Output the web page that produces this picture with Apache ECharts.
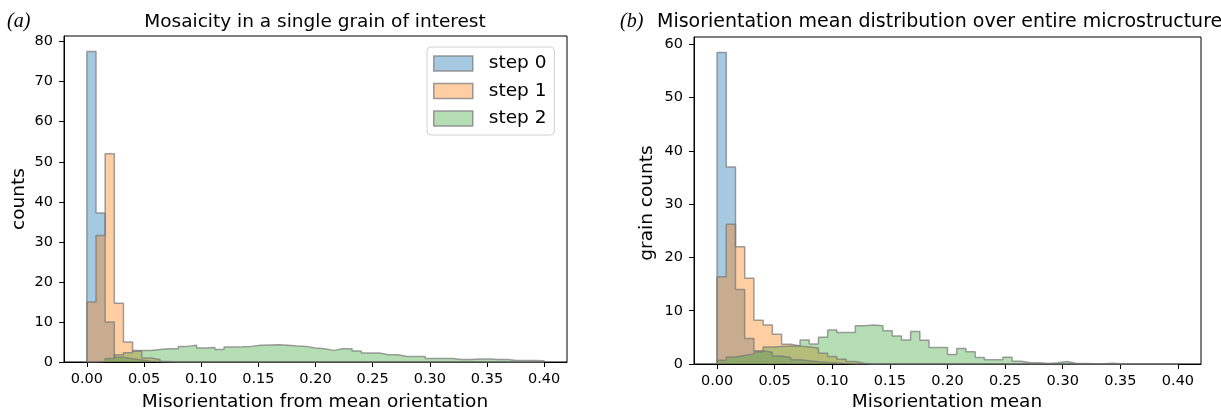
<!DOCTYPE html>
<html><head><meta charset="utf-8">
<script src="https://cdn.jsdelivr.net/npm/echarts@6/dist/echarts.min.js"></script>
<style>html,body{margin:0;padding:0;background:#fff}#c{width:1221px;height:413px}</style>
</head><body><div id="c"></div>
<script>
// ---- data ----
const binStart = 0;
const binWidth = 0.008;
const seriesNames = ['step 0', 'step 1', 'step 2'];
const xTicks = [0, 0.05, 0.10, 0.15, 0.20, 0.25, 0.30, 0.35, 0.40];
const yTicksA = [0, 10, 20, 30, 40, 50, 60, 70, 80];
const yTicksB = [0, 10, 20, 30, 40, 50, 60];

// (a) Mosaicity in a single grain of interest — counts per bin
const mosaicStep0 = [77.5, 37.2, 10, 1.2, 0.8, 0.5, 0.2, 0.1, 0, 0, 0, 0, 0, 0, 0, 0, 0, 0, 0, 0, 0, 0, 0, 0, 0, 0, 0, 0, 0, 0, 0, 0, 0, 0, 0, 0, 0, 0, 0, 0, 0, 0, 0, 0, 0, 0, 0, 0, 0, 0];
const mosaicStep1 = [15, 31.6, 52, 14.7, 5.0, 2.7, 1.0, 0.6, 0.1, 0, 0, 0, 0, 0, 0, 0, 0, 0, 0, 0, 0, 0, 0, 0, 0, 0, 0, 0, 0, 0, 0, 0, 0, 0, 0, 0, 0, 0, 0, 0, 0, 0, 0, 0, 0, 0, 0, 0, 0, 0];
const mosaicStep2 = [0, 0.1, 0.9, 1.8, 2.3, 2.9, 2.9, 3.1, 3.3, 3.3, 3.9, 4.2, 3.5, 3.6, 3.1, 3.75, 3.8, 3.9, 4.2, 4.25, 4.3, 4.2, 4.0, 3.9, 3.5, 3.3, 2.9, 3.3, 3.3, 2.75, 2.25, 2.25, 1.8, 1.8, 1.4, 1.4, 1.4, 0.9, 0.9, 0.9, 0.6, 0.6, 0.75, 0.75, 0.6, 0.6, 0.4, 0.4, 0.35, 0.3];

// (b) Misorientation mean distribution — grain counts per bin
const meanStep0 = [58.5, 37, 14, 4.8, 2.5, 2.2, 1.5, 1.2, 0.8, 0.6, 0.4, 0.3, 0.2, 0.1, 0, 0, 0, 0, 0, 0, 0, 0, 0, 0, 0, 0, 0, 0, 0, 0, 0, 0, 0, 0, 0, 0, 0, 0, 0, 0, 0, 0, 0, 0, 0, 0, 0, 0, 0, 0];
const meanStep1 = [16.4, 26.25, 22, 16.1, 8.2, 7.3, 5.6, 3.7, 3.4, 3.2, 3.0, 2.0, 1.4, 0.9, 0.45, 0.15, 0, 0, 0, 0, 0, 0, 0, 0, 0, 0, 0, 0, 0, 0, 0, 0, 0, 0, 0, 0, 0, 0, 0, 0, 0, 0, 0, 0, 0, 0, 0, 0, 0, 0];
const meanStep2 = [0.7, 1.3, 1.6, 1.9, 2.3, 3.2, 3.3, 3.4, 3.4, 4.5, 3.75, 5.0, 6.4, 5.9, 5.9, 7.2, 7.3, 7.2, 6.25, 5.25, 4.5, 6.1, 4.45, 3.1, 3.1, 1.8, 2.9, 2.3, 1.2, 0.8, 0.8, 1.25, 0.5, 0.25, 0.25, 0.1, 0.25, 0.45, 0.1, 0.1, 0.05, 0.05, 0.15, 0, 0, 0, 0, 0, 0, 0];

// ---- styling ----
const fills = ['rgba(31,119,180,0.4)', 'rgba(255,127,14,0.38)', 'rgba(44,160,44,0.35)'];
const edge = 'rgba(120,120,120,0.7)';
const SANS = '"DejaVu Sans", sans-serif';

function stepData(counts) {
  const d = [[binStart, 0]];
  counts.forEach((c, i) => d.push([binStart + i * binWidth, c]));
  d.push([binStart + counts.length * binWidth, 0]);
  return d;
}
function histSeries(name, counts, idx, gi) {
  return {
    type: 'line', name: name, xAxisIndex: gi, yAxisIndex: gi,
    data: stepData(counts), step: 'end', symbol: 'none', silent: true,
    lineStyle: { color: edge, width: 1.5 },
    itemStyle: { color: fills[idx] },
    areaStyle: { color: fills[idx], opacity: 1 }
  };
}
function xAxisCfg(gi) {
  return {
    type: 'value', gridIndex: gi, min: -0.02, max: 0.42,
    axisLine: { show: true, onZero: false, lineStyle: { color: '#000', width: 1 } },
    axisTick: { show: true, customValues: xTicks, length: 5, lineStyle: { color: '#000', width: 1 } },
    axisLabel: { customValues: xTicks, formatter: v => v.toFixed(2), fontSize: 14.5, color: '#000', margin: 10, fontFamily: SANS },
    splitLine: { show: false }
  };
}
function yAxisCfg(gi, max, ticks) {
  return {
    type: 'value', gridIndex: gi, min: 0, max: max,
    axisLine: { show: true, onZero: false, lineStyle: { color: '#000', width: 1 } },
    axisTick: { show: true, customValues: ticks, length: 5, lineStyle: { color: '#000', width: 1 } },
    axisLabel: { customValues: ticks, fontSize: 14.5, color: '#000', margin: 11, fontFamily: SANS },
    splitLine: { show: false }
  };
}

const chart = echarts.init(document.getElementById('c'), null, { renderer: 'canvas' });
const txt = (t, x, y, extra) => Object.assign({ type: 'text', x: x, y: y, silent: true,
  style: Object.assign({ text: t, fill: '#000', font: '18.5px ' + SANS, align: 'center', verticalAlign: 'middle' }, extra || {}) });

chart.setOption({
  animation: false,
  grid: [
    { left: 64, top: 36, width: 503, height: 326, show: true, borderColor: '#000', borderWidth: 1, backgroundColor: 'transparent' },
    { left: 694, top: 37, width: 507, height: 327, show: true, borderColor: '#000', borderWidth: 1, backgroundColor: 'transparent' }
  ],
  xAxis: [xAxisCfg(0), xAxisCfg(1)],
  yAxis: [yAxisCfg(0, 81.4, yTicksA), yAxisCfg(1, 61.4, yTicksB)],
  legend: {
    orient: 'vertical', left: 427, top: 47,
    itemWidth: 39, itemHeight: 15, itemGap: 8.5,
    data: seriesNames.map((n, i) => ({ name: n, icon: 'rect', itemStyle: { color: fills[i], borderColor: 'rgba(130,130,130,0.8)', borderWidth: 1.5 } })),
    textStyle: { fontSize: 18.5, fontFamily: SANS, color: '#000', padding: [0, 0, 0, 11] },
    backgroundColor: 'rgba(255,255,255,0.8)', borderColor: '#d0d0d0', borderWidth: 1, borderRadius: 4,
    padding: [7, 8, 7, 6], selectedMode: false
  },
  series: [
    histSeries(seriesNames[0], mosaicStep0, 0, 0),
    histSeries(seriesNames[1], mosaicStep1, 1, 0),
    histSeries(seriesNames[2], mosaicStep2, 2, 0),
    histSeries(seriesNames[0], meanStep0, 0, 1),
    histSeries(seriesNames[1], meanStep1, 1, 1),
    histSeries(seriesNames[2], meanStep2, 2, 1)
  ],
  graphic: [
    txt('(a)', 7, 22, { font: 'italic 20px "Liberation Serif", serif', align: 'left' }),
    txt('Mosaicity in a single grain of interest', 315, 22),
    txt('(b)', 620, 22, { font: 'italic 20px "Liberation Serif", serif', align: 'left' }),
    txt('Misorientation mean distribution over entire microstructure', 657, 22, { align: 'left', font: '19px ' + SANS }),
    txt('Misorientation from mean orientation', 315, 402),
    txt('Misorientation mean', 947, 402),
    txt('counts', 19, 199, {}),
    txt('grain counts', 647, 203, {})
  ].map((g, i) => (i >= 6 ? Object.assign(g, { rotation: Math.PI / 2 }) : g))
});
</script></body></html>
